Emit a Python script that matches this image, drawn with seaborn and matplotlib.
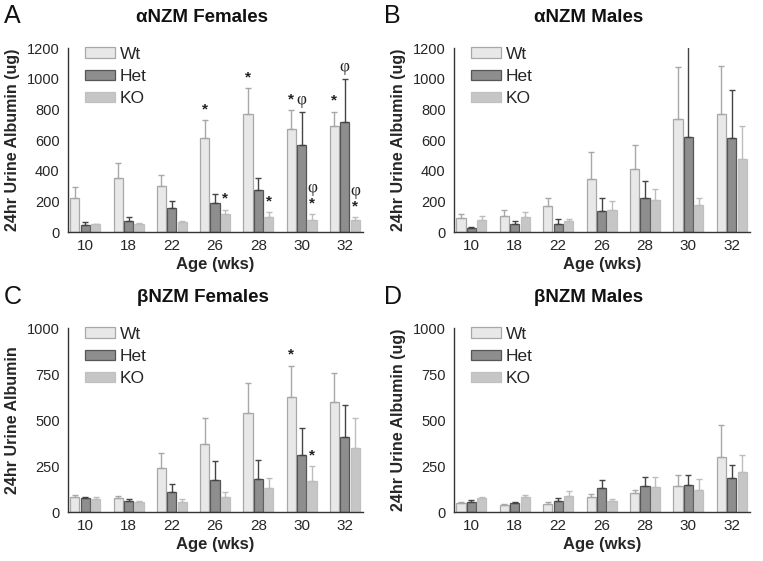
import numpy as np
import pandas as pd
import matplotlib
matplotlib.use("Agg")
import matplotlib.pyplot as plt
import seaborn as sns
from matplotlib.patches import Patch

ages = ["10", "18", "22", "26", "28", "30", "32"]
genotypes = ["Wt", "Het", "KO"]

# Panel A: alphaNZM Females
a_wt = [220, 350, 300, 615, 770, 670, 690]
a_wt_err = [75, 100, 75, 115, 170, 125, 95]
a_het = [45, 75, 155, 190, 275, 570, 715]
a_het_err = [20, 20, 50, 60, 75, 215, 285]
a_ko = [50, 55, 65, 115, 100, 80, 80]
a_ko_err = [5, 5, 5, 30, 30, 35, 15]

# Panel B: alphaNZM Males
b_wt = [90, 105, 170, 345, 410, 735, 770]
b_wt_err = [30, 40, 55, 180, 155, 340, 315]
b_het = [25, 50, 55, 135, 225, 620, 615]
b_het_err = [8, 25, 30, 85, 105, 600, 310]
b_ko = [80, 100, 75, 145, 210, 175, 475]
b_ko_err = [25, 30, 10, 55, 70, 45, 215]

# Panel C: betaNZM Females
c_wt = [80, 75, 240, 370, 540, 625, 600]
c_wt_err = [12, 10, 80, 140, 160, 170, 155]
c_het = [75, 60, 110, 175, 180, 310, 410]
c_het_err = [8, 10, 40, 100, 105, 145, 170]
c_ko = [70, 55, 55, 80, 130, 170, 350]
c_ko_err = [10, 5, 15, 30, 55, 80, 160]

# Panel D: betaNZM Males
d_wt = [50, 40, 45, 80, 105, 140, 300]
d_wt_err = [5, 5, 8, 20, 15, 60, 175]
d_het = [55, 50, 60, 130, 140, 145, 185]
d_het_err = [10, 5, 18, 45, 50, 55, 70]
d_ko = [75, 80, 85, 60, 135, 120, 220]
d_ko_err = [5, 15, 30, 12, 55, 60, 90]

# significance marks: (age index, genotype index, symbols bottom->top)
a_marks = [(3, 0, ["*"]), (4, 0, ["*"]), (5, 0, ["*"]), (6, 0, ["*"]),
           (5, 1, ["φ"]), (6, 1, ["φ"]),
           (3, 2, ["*"]), (4, 2, ["*"]), (5, 2, ["*", "φ"]), (6, 2, ["*", "φ"])]
c_marks = [(5, 0, ["*"]), (5, 2, ["*"])]

sns.set_style("white")
plt.rcParams["font.family"] = ["Liberation Sans", "DejaVu Sans"]

face = {"Wt": "#e8e8e8", "Het": "#8e8e8e", "KO": "#c6c6c6"}
edge = {"Wt": "#a8a8a8", "Het": "#555555", "KO": "#c0c0c0"}
ecol = {"Wt": "#a8a8a8", "Het": "#444444", "KO": "#bdbdbd"}

W, H = 763, 561
fig = plt.figure(figsize=(W / 100, H / 100), dpi=100)

def fx(px):
    return px / W

def fy(py):
    return 1 - py / H

panels = [
    dict(pos=[fx(68), fy(232), fx(295), 184 / H], letter="A", lxy=(4, 16), tyy=17,
         title="αNZM Females", vals=[a_wt, a_het, a_ko], errs=[a_wt_err, a_het_err, a_ko_err],
         ymax=1200, ticks=[0, 200, 400, 600, 800, 1000, 1200],
         ylabel="24hr Urine Albumin (ug)", marks=a_marks),
    dict(pos=[fx(454), fy(232), fx(296), 184 / H], letter="B", lxy=(384, 16), tyy=17,
         title="αNZM Males", vals=[b_wt, b_het, b_ko], errs=[b_wt_err, b_het_err, b_ko_err],
         ymax=1200, ticks=[0, 200, 400, 600, 800, 1000, 1200],
         ylabel="24hr Urine Albumin (ug)", marks=[]),
    dict(pos=[fx(68), fy(512), fx(295), 184 / H], letter="C", lxy=(4, 297), tyy=297,
         title="βNZM Females", vals=[c_wt, c_het, c_ko], errs=[c_wt_err, c_het_err, c_ko_err],
         ymax=1000, ticks=[0, 250, 500, 750, 1000],
         ylabel="24hr Urine Albumin", marks=c_marks),
    dict(pos=[fx(454), fy(512), fx(296), 184 / H], letter="D", lxy=(384, 297), tyy=297,
         title="βNZM Males", vals=[d_wt, d_het, d_ko], errs=[d_wt_err, d_het_err, d_ko_err],
         ymax=1000, ticks=[0, 250, 500, 750, 1000],
         ylabel="24hr Urine Albumin (ug)", marks=[]),
]

for p in panels:
    ax = fig.add_axes(p["pos"])
    rows = []
    for g, v in zip(genotypes, p["vals"]):
        for a, val in zip(ages, v):
            rows.append({"Age": a, "Genotype": g, "Albumin": val})
    df = pd.DataFrame(rows)
    sns.barplot(data=df, x="Age", y="Albumin", hue="Genotype", order=ages,
                hue_order=genotypes, palette=face, errorbar=None,
                width=0.72, gap=0.12, ax=ax, legend=False)
    tops = {}
    for gi, (g, cont) in enumerate(zip(genotypes, ax.containers)):
        xs, hs = [], []
        for patch in cont:
            patch.set_edgecolor(edge[g])
            patch.set_linewidth(0.9)
            xs.append(patch.get_x() + patch.get_width() / 2)
            hs.append(patch.get_height())
        errs = p["errs"][gi]
        ax.errorbar(xs, hs, yerr=[np.zeros(len(errs)), errs], fmt="none",
                    ecolor=ecol[g], elinewidth=1.0, capsize=2.2, capthick=1.0)
        for k, (x, h, e) in enumerate(zip(xs, hs, errs)):
            tops[(k, gi)] = (x, h + e)
    scale = p["ymax"] / 1200
    for (k, gi, texts) in p["marks"]:
        x, top = tops[(k, gi)]
        y = min(top, p["ymax"]) + 25 * scale
        for t in texts:
            if t == "*":
                ax.text(x, y, "*", ha="center", va="bottom", fontsize=11,
                        fontweight="bold", color="#222222")
                y += 95 * scale
            else:
                ax.text(x, y, "φ", ha="center", va="bottom", fontsize=12.5,
                        family=["Liberation Serif", "DejaVu Serif"], color="#222222")
                y += 110 * scale
    ax.set_ylim(0, p["ymax"])
    ax.set_xlim(-0.4, 6.42)
    ax.set_yticks(p["ticks"])
    ax.set_yticklabels([str(t) for t in p["ticks"]], fontsize=10.5)
    ax.set_xticks(range(len(ages)))
    ax.set_xticklabels(ages, fontsize=11)
    ax.tick_params(axis="y", direction="out", length=4, width=1, color="#333333", pad=2)
    ax.tick_params(axis="x", length=0, pad=5)
    for s in ["top", "right"]:
        ax.spines[s].set_visible(False)
    for s in ["left", "bottom"]:
        ax.spines[s].set_color("#333333")
        ax.spines[s].set_linewidth(1.0)
    ax.set_xlabel("Age (wks)", fontsize=12, fontweight="bold", labelpad=3)
    ax.set_ylabel(p["ylabel"], fontsize=11.5, fontweight="bold", labelpad=5)
    handles = [Patch(facecolor=face[g], edgecolor=edge[g], linewidth=0.9, label=g)
               for g in genotypes]
    ax.legend(handles=handles, loc="upper left", bbox_to_anchor=(0.035, 1.045),
              frameon=False, fontsize=12.5, handlelength=1.7, handleheight=0.55,
              labelspacing=0.42, handletextpad=0.3, borderaxespad=0)
    axl, axb, axw, axh = p["pos"]
    fig.text(axl + axw / 2 - fx(13), fy(p["tyy"]), p["title"], fontsize=13.5,
             fontweight="bold", ha="center", va="center", color="#111111")
    fig.text(fx(p["lxy"][0]), fy(p["lxy"][1]), p["letter"], fontsize=18,
             va="center", ha="left", color="#111111")

fig.savefig("out.png", dpi=100)
